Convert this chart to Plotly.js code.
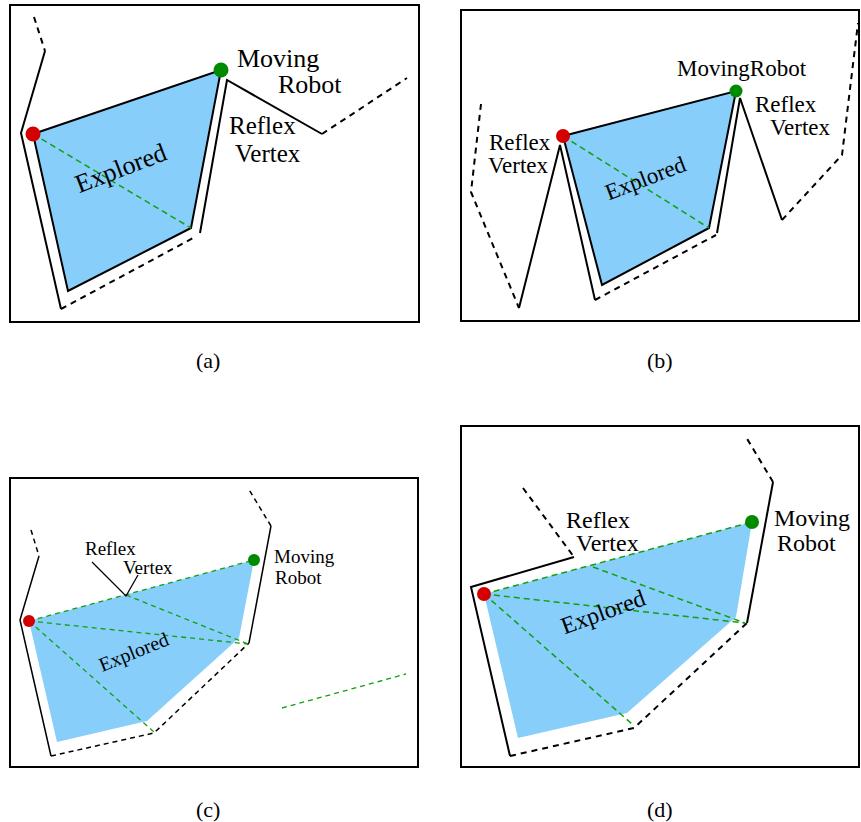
<!DOCTYPE html>
<html><head><meta charset="utf-8">
<script src="https://cdn.plot.ly/plotly-3.0.1.min.js"></script>
<style>html,body{margin:0;padding:0;background:#fff}</style>
</head><body><div id="chart" style="width:861px;height:822px"></div>
<script>
// ---------- Panel (a) ----------
const aSolidX = [45,21,61,null,200,227,322];
const aSolidY = [51,133,309,null,233,80,134];
const aDashX = [34,45,null,61,195,null,322,407];
const aDashY = [17,51,null,309,237,null,134,78];
const aExpX = [33,221,191,68,33];
const aExpY = [134,70,228,291,134];
const aSightX = [33,191];
const aSightY = [134,228];
const aRobotX = [221], aRobotY = [70];
const aStartX = [33], aStartY = [134];

// ---------- Panel (b) ----------
const bSolidX = [519,560,595,null,717,740,782];
const bSolidY = [308,145,300,null,233,98,220];
const bDashX = [481,471,519,null,595,716,null,782,842,858];
const bDashY = [104,192,308,null,300,235,null,220,155,23];
const bExpX = [563,736,709,602,563];
const bExpY = [136,91,228,285,136];
const bSightX = [563,709];
const bSightY = [136,228];
const bRobotX = [736], bRobotY = [91];
const bStartX = [563], bStartY = [136];

// ---------- Panel (c) ----------
const cSolidX = [39,20,51,null,249,271];
const cSolidY = [556,620,756,null,643,526];
const cDashX = [31,39,null,51,154,249,null,271,248];
const cDashY = [530,556,null,756,733,643,null,526,488];
const cExpX = [29,254,239,147,57,29];
const cExpY = [621,560,638,721,742,621];
const cSightX = [29,254,null,126,248,null,29,248,null,29,154,null,282,406];
const cSightY = [621,560,null,595,644,null,621,644,null,621,732,null,708,674];
const cPointerX = [92,126,138];
const cPointerY = [562,596,575];
const cRobotX = [254], cRobotY = [560];
const cStartX = [29], cStartY = [621];

// ---------- Panel (d) ----------
const dSolidX = [574,471,510,null,747,773];
const dSolidY = [557,587,756,null,623,482];
const dDashX = [523,574,null,510,634,747,null,773,746];
const dDashY = [488,557,null,756,728,623,null,482,437];
const dExpX = [484,752,736,627,518,484];
const dExpY = [594,522,617,713,738,594];
const dSightX = [484,752,null,593,745,null,484,745,null,484,632];
const dSightY = [594,522,null,567,623,null,594,623,null,594,724];
const dRobotX = [752], dRobotY = [522];
const dStartX = [484], dStartY = [594];

const BLUE = '#87CEFA', RED = '#d40000', GREEN = '#008a00', SIGHT = '#11a011';

function line(x, y, opts) {
  return Object.assign({type:'scatter', mode:'lines', x:x, y:y, hoverinfo:'skip', showlegend:false}, opts);
}
function fillPoly(x, y, outline) {
  return {type:'scatter', mode:'lines', x:x, y:y, fill:'toself', fillcolor:BLUE,
    line:{color: outline ? '#000' : BLUE, width: outline ? 2 : 0}, hoverinfo:'skip', showlegend:false};
}
function dot(x, y, color, size) {
  return {type:'scatter', mode:'markers', x:x, y:y, marker:{color:color, size:size, line:{width:0}},
    hoverinfo:'skip', showlegend:false};
}
const solidStyle = {line:{color:'#000', width:2}};
const dashStyle = {line:{color:'#000', width:2, dash:'6px,5px'}};
const sightStyle = {line:{color:SIGHT, width:1.5, dash:'6px,4px'}};

const traces = [
  fillPoly(aExpX, aExpY, true), line(aSolidX, aSolidY, solidStyle), line(aDashX, aDashY, dashStyle),
  line(aSightX, aSightY, sightStyle), dot(aStartX, aStartY, RED, 15), dot(aRobotX, aRobotY, GREEN, 15),

  fillPoly(bExpX, bExpY, true), line(bSolidX, bSolidY, solidStyle), line(bDashX, bDashY, dashStyle),
  line(bSightX, bSightY, sightStyle), dot(bStartX, bStartY, RED, 14), dot(bRobotX, bRobotY, GREEN, 13),

  fillPoly(cExpX, cExpY, false), line(cSolidX, cSolidY, {line:{color:'#000', width:1.5}}),
  line(cDashX, cDashY, {line:{color:'#000', width:1.5, dash:'5px,4px'}}),
  line(cSightX, cSightY, {line:{color:SIGHT, width:1.3, dash:'5px,4px'}}),
  line(cPointerX, cPointerY, {line:{color:'#000', width:1.3}}),
  dot(cStartX, cStartY, RED, 12), dot(cRobotX, cRobotY, GREEN, 12),

  fillPoly(dExpX, dExpY, false), line(dSolidX, dSolidY, solidStyle), line(dDashX, dDashY, dashStyle),
  line(dSightX, dSightY, sightStyle), dot(dStartX, dStartY, RED, 14), dot(dRobotX, dRobotY, GREEN, 14)
];

const F = '"Liberation Serif", "Times New Roman", serif';
function txt(t, x, y, size, angle) {
  return {text:t, x:x, y:y, xref:'x', yref:'y', showarrow:false, xanchor:'center', yanchor:'middle',
    textangle: angle || 0, font:{family:F, size:size, color:'#000'}};
}
const annotations = [
  txt('Moving', 278, 58, 26), txt('Robot', 310, 84, 26), txt('Reflex', 262, 125, 25), txt('Vertex', 268, 153, 25),
  txt('Explored', 120, 168, 26, -21),
  txt('MovingRobot', 742, 68, 23), txt('Reflex', 520, 142, 23), txt('Vertex', 518, 165, 23),
  txt('Reflex', 786, 104, 23), txt('Vertex', 800, 127, 23), txt('Explored', 645, 178, 23, -21),
  txt('Reflex', 110, 548, 19), txt('Vertex', 148, 567, 19), txt('Moving', 304, 556, 19), txt('Robot', 298, 577, 19),
  txt('Explored', 133, 652, 20, -22),
  txt('Reflex', 598, 520, 24), txt('Vertex', 607, 543, 24), txt('Moving', 812, 518, 24), txt('Robot', 806, 543, 24),
  txt('Explored', 603, 612, 24, -20),
  txt('(a)', 208, 360, 22), txt('(b)', 660, 360, 22), txt('(c)', 208, 809, 22), txt('(d)', 660, 809, 22)
];

function frame(x0, y0, x1, y1) {
  return {type:'rect', xref:'x', yref:'y', x0:x0, y0:y0, x1:x1, y1:y1, line:{color:'#000', width:2}, layer:'above'};
}
const layout = {
  width:861, height:822, margin:{l:0, r:0, t:0, b:0}, paper_bgcolor:'#fff', plot_bgcolor:'#fff',
  xaxis:{range:[0,861], visible:false, fixedrange:true},
  yaxis:{range:[822,0], visible:false, fixedrange:true},
  shapes:[frame(10,5,419,322), frame(461,10,859,321), frame(10,478,418,767), frame(461,426,859,767)],
  annotations: annotations, showlegend:false
};
Plotly.newPlot('chart', traces, layout, {staticPlot:true, displayModeBar:false});
</script></body></html>
